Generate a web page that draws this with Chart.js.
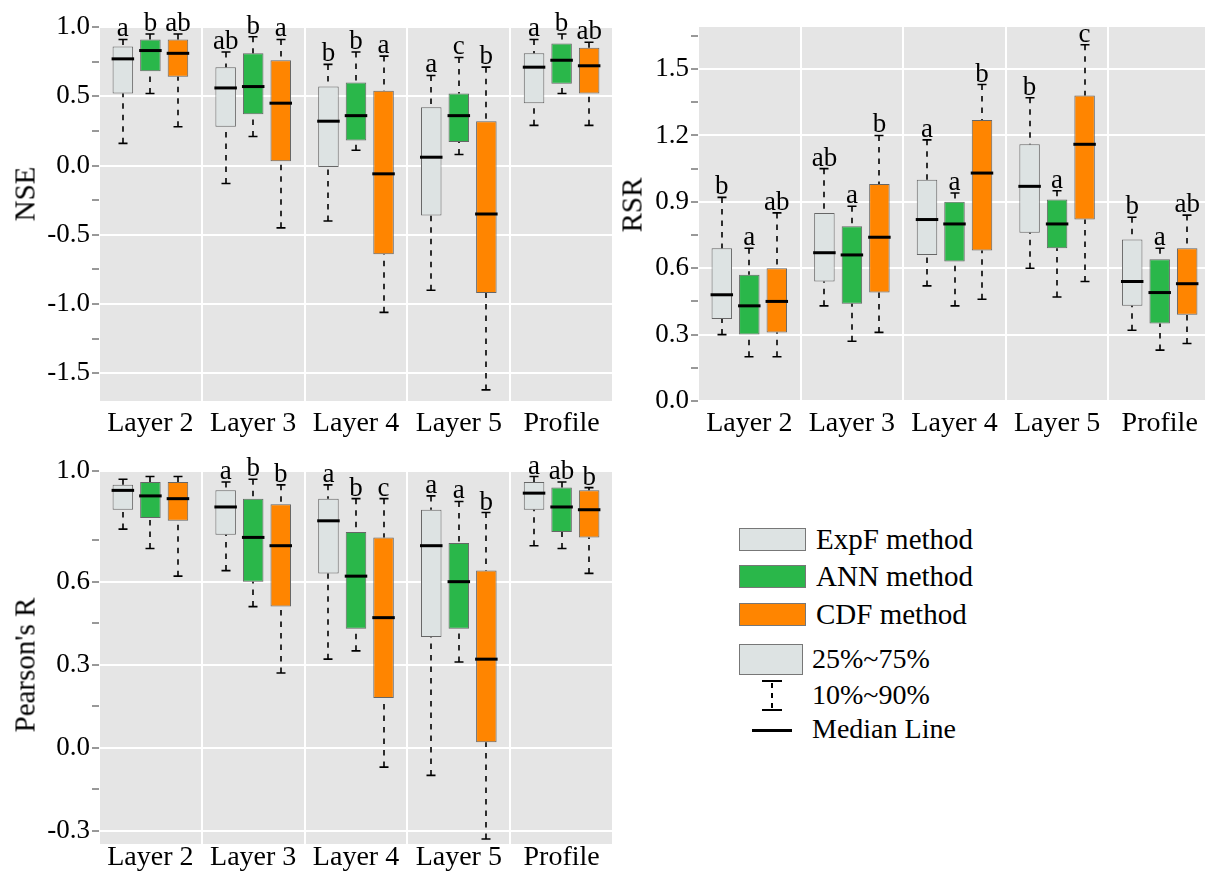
<!DOCTYPE html>
<html>
<head>
<meta charset="utf-8">
<script src="https://cdn.jsdelivr.net/npm/chart.js@4/dist/chart.umd.min.js"></script>
<style>
  html, body { margin: 0; padding: 0; background: #fff; overflow: hidden; width: 1205px; height: 877px; }
  body { position: relative; font-family: "Liberation Serif", "Times New Roman", serif; color: #000; }
  canvas { position: absolute; }
  .ytitle { position: absolute; font-size: 29px; line-height: 1; white-space: nowrap; transform: translate(-50%, -50%) rotate(-90deg); }
  .lt { position: absolute; line-height: 1; white-space: nowrap; }
  .sw { position: absolute; box-sizing: border-box; border: 1px solid #777; }
  .bar { position: absolute; background: #000; }
  .dash { position: absolute; width: 1.5px; background: repeating-linear-gradient(to bottom, #000 0 5px, transparent 5px 10px); }
</style>
</head>
<body>
<canvas id="nse" width="613" height="445" style="left:0;top:0"></canvas>
<canvas id="rsr" width="611" height="445" style="left:600px;top:0"></canvas>
<canvas id="pr" width="613" height="433" style="left:0;top:444px"></canvas>

<div class="ytitle" style="left:25px;top:194px">NSE</div>
<div class="ytitle" style="left:632px;top:205px">RSR</div>
<div class="ytitle" style="left:25px;top:665px">Pearson's R</div>

<!-- legend -->
<div class="sw" style="left:739px;top:528px;width:67px;height:23px;background:#dde3e3"></div>
<div class="lt" style="left:816px;top:525px;font-size:29px">ExpF method</div>
<div class="sw" style="left:739px;top:565px;width:67px;height:23px;background:#2ab74a"></div>
<div class="lt" style="left:816px;top:562px;font-size:29px">ANN method</div>
<div class="sw" style="left:739px;top:603px;width:67px;height:23px;background:#ff8500"></div>
<div class="lt" style="left:816px;top:600px;font-size:29px">CDF method</div>
<div class="sw" style="left:739px;top:644px;width:64px;height:31px;background:#dde3e3"></div>
<div class="lt" style="left:812px;top:645px;font-size:28px">25%~75%</div>
<div class="bar" style="left:762px;top:680px;width:20px;height:1.5px"></div>
<div class="dash" style="left:771px;top:683px;height:26px"></div>
<div class="bar" style="left:762px;top:709px;width:20px;height:1.5px"></div>
<div class="lt" style="left:812px;top:681px;font-size:28px">10%~90%</div>
<div class="bar" style="left:752px;top:729px;width:40px;height:3px"></div>
<div class="lt" style="left:812px;top:715px;font-size:28px">Median Line</div>

<script>
const categories = ['Layer 2', 'Layer 3', 'Layer 4', 'Layer 5', 'Profile'];
const methods = ['ExpF method', 'ANN method', 'CDF method'];
const fills = ['#dde3e3', '#2ab74a', '#ff8500'];

// each entry: [10%, 25%, median, 75%, 90%]
const nseExpF = [[0.16, 0.52, 0.77, 0.86, 0.91], [-0.13, 0.28, 0.56, 0.71, 0.82], [-0.40, -0.01, 0.32, 0.57, 0.73], [-0.90, -0.36, 0.06, 0.42, 0.65], [0.29, 0.45, 0.71, 0.81, 0.91]];
const nseANN  = [[0.52, 0.68, 0.83, 0.91, 0.95], [0.21, 0.37, 0.57, 0.81, 0.93], [0.11, 0.18, 0.36, 0.60, 0.82], [0.08, 0.17, 0.36, 0.52, 0.78], [0.52, 0.59, 0.76, 0.88, 0.95]];
const nseCDF  = [[0.28, 0.64, 0.81, 0.91, 0.95], [-0.45, 0.03, 0.45, 0.76, 0.91], [-1.06, -0.64, -0.06, 0.54, 0.79], [-1.62, -0.92, -0.35, 0.32, 0.71], [0.29, 0.52, 0.72, 0.85, 0.89]];

const rsrExpF = [[0.30, 0.37, 0.48, 0.69, 0.92], [0.43, 0.54, 0.67, 0.85, 1.05], [0.52, 0.66, 0.82, 1.00, 1.18], [0.60, 0.76, 0.97, 1.16, 1.37], [0.32, 0.43, 0.54, 0.73, 0.83]];
const rsrANN  = [[0.20, 0.30, 0.43, 0.57, 0.69], [0.27, 0.44, 0.66, 0.79, 0.88], [0.43, 0.63, 0.80, 0.90, 0.94], [0.47, 0.69, 0.80, 0.91, 0.95], [0.23, 0.35, 0.49, 0.64, 0.69]];
const rsrCDF  = [[0.20, 0.31, 0.45, 0.60, 0.85], [0.31, 0.49, 0.74, 0.98, 1.20], [0.46, 0.68, 1.03, 1.27, 1.43], [0.54, 0.82, 1.16, 1.38, 1.61], [0.26, 0.39, 0.53, 0.69, 0.84]];

const rExpF = [[0.79, 0.86, 0.93, 0.95, 0.97], [0.64, 0.77, 0.87, 0.93, 0.96], [0.32, 0.63, 0.82, 0.90, 0.95], [-0.10, 0.40, 0.73, 0.86, 0.91], [0.73, 0.86, 0.92, 0.96, 0.98]];
const rANN  = [[0.72, 0.83, 0.91, 0.96, 0.98], [0.51, 0.60, 0.76, 0.90, 0.97], [0.35, 0.43, 0.62, 0.78, 0.90], [0.31, 0.43, 0.60, 0.74, 0.89], [0.72, 0.78, 0.87, 0.94, 0.96]];
const rCDF  = [[0.62, 0.82, 0.90, 0.96, 0.98], [0.27, 0.51, 0.73, 0.88, 0.95], [-0.07, 0.18, 0.47, 0.76, 0.90], [-0.33, 0.02, 0.32, 0.64, 0.85], [0.63, 0.76, 0.86, 0.93, 0.94]];

// significance letters per category: [ExpF, ANN, CDF]
const nseLetters = [['a', 'b', 'ab'], ['ab', 'b', 'a'], ['b', 'b', 'a'], ['a', 'c', 'b'], ['a', 'b', 'ab']];
const rsrLetters = [['b', 'a', 'ab'], ['ab', 'a', 'b'], ['a', 'a', 'b'], ['b', 'a', 'c'], ['b', 'a', 'ab']];
const rLetters   = [['', '', ''], ['a', 'b', 'b'], ['a', 'b', 'c'], ['a', 'a', 'b'], ['a', 'ab', 'b']];

const nseTicks = [-1.5, -1.25, -1, -0.75, -0.5, -0.25, 0, 0.25, 0.5, 0.75, 1];
const nseMajor = [-1.5, -1, -0.5, 0, 0.5, 1];
const rsrTicks = [0, 0.15, 0.3, 0.45, 0.6, 0.75, 0.9, 1.05, 1.2, 1.35, 1.5, 1.65];
const rsrMajor = [0, 0.3, 0.6, 0.9, 1.2, 1.5];
const rTicks = [-0.3, -0.15, 0, 0.15, 0.3, 0.45, 0.6, 0.75, 1];
const rMajor = [-0.3, 0, 0.3, 0.6, 1];

const family = '"Liberation Serif", "Times New Roman", serif';

// grey panel, whiskers, medians and letters
const boxPlugin = {
  id: 'boxes',
  beforeDraw(chart) {
    const { ctx, chartArea: a } = chart;
    ctx.save();
    ctx.fillStyle = '#e5e5e5';
    ctx.fillRect(a.left, a.top, a.right - a.left, a.bottom - a.top);
    ctx.restore();
  },
  afterDatasetsDraw(chart) {
    const ctx = chart.ctx;
    const y = chart.scales.y;
    chart.data.datasets.forEach((ds, i) => {
      chart.getDatasetMeta(i).data.forEach((bar, j) => {
        const [lo, q1, med, q3, hi] = ds.stats[j];
        const x = Math.round(bar.x), w = bar.width;
        const pLo = y.getPixelForValue(lo), pQ1 = y.getPixelForValue(q1);
        const pMed = y.getPixelForValue(med), pQ3 = y.getPixelForValue(q3), pHi = y.getPixelForValue(hi);
        ctx.save();
        ctx.strokeStyle = '#000';
        ctx.lineWidth = 1.6;
        ctx.setLineDash([5.5, 6]);
        ctx.beginPath();
        ctx.moveTo(x, pHi); ctx.lineTo(x, pQ3);
        ctx.moveTo(x, pLo); ctx.lineTo(x, pQ1);
        ctx.stroke();
        ctx.setLineDash([]);
        ctx.beginPath();
        ctx.moveTo(x - 4.5, pHi); ctx.lineTo(x + 4.5, pHi);
        ctx.moveTo(x - 4.5, pLo); ctx.lineTo(x + 4.5, pLo);
        ctx.stroke();
        ctx.lineWidth = 3;
        ctx.beginPath();
        ctx.moveTo(bar.x - w / 2 - 1, pMed); ctx.lineTo(bar.x + w / 2 + 1, pMed);
        ctx.stroke();
        const txt = ds.marks[j];
        if (txt) {
          ctx.fillStyle = '#000';
          ctx.font = '27px ' + family;
          ctx.textAlign = 'center';
          ctx.textBaseline = 'alphabetic';
          ctx.fillText(txt, bar.x, pHi - 3);
        }
        ctx.restore();
      });
    });
  }
};

function makePanel(id, series, letters, ticks, majors, min, max, yWidth, xHeight, xPad) {
  new Chart(document.getElementById(id), {
    type: 'bar',
    data: {
      labels: categories,
      datasets: series.map((s, i) => ({
        label: methods[i],
        data: s.map(v => [v[1], v[3]]),
        stats: s,
        marks: letters.map(l => l[i]),
        backgroundColor: fills[i],
        borderColor: '#666',
        borderWidth: 1,
        borderSkipped: false,
        categoryPercentage: 0.804,
        barPercentage: 0.745
      }))
    },
    options: {
      responsive: false,
      animation: false,
      layout: { padding: { top: 27, right: 0, left: 0, bottom: 0 } },
      plugins: { legend: { display: false }, tooltip: { enabled: false } },
      scales: {
        x: {
          type: 'category',
          offset: true,
          afterFit: s => { s.height = xHeight; },
          grid: { offset: true, color: '#fff', lineWidth: 2, drawTicks: false },
          border: { display: false },
          ticks: { color: '#000', font: { family, size: 28, lineHeight: 1 }, padding: xPad, autoSkip: false, maxRotation: 0 }
        },
        y: {
          type: 'linear',
          min, max,
          afterBuildTicks: s => { s.ticks = ticks.map(v => ({ value: v })); },
          afterFit: s => { s.width = yWidth; },
          grid: {
            color: c => (c.tick && majors.includes(c.tick.value)) ? '#fff' : 'rgba(0,0,0,0)',
            lineWidth: 2,
            tickColor: '#333',
            tickLength: 7,
            tickWidth: 1
          },
          border: { display: false },
          ticks: {
            color: '#000',
            font: { family, size: 27 },
            padding: 2,
            autoSkip: false,
            callback: v => majors.includes(v) ? v.toFixed(1) : ''
          }
        }
      }
    },
    plugins: [boxPlugin]
  });
}

makePanel('nse', [nseExpF, nseANN, nseCDF], nseLetters, nseTicks, nseMajor, -1.70, 1.0, 99, 44, 9);
makePanel('rsr', [rsrExpF, rsrANN, rsrCDF], rsrLetters, rsrTicks, rsrMajor, 0, 1.69, 98, 44, 9);
makePanel('pr', [rExpF, rANN, rCDF], rLetters, rTicks, rMajor, -0.348, 1.0, 99, 33, 0);
</script>
</body>
</html>
